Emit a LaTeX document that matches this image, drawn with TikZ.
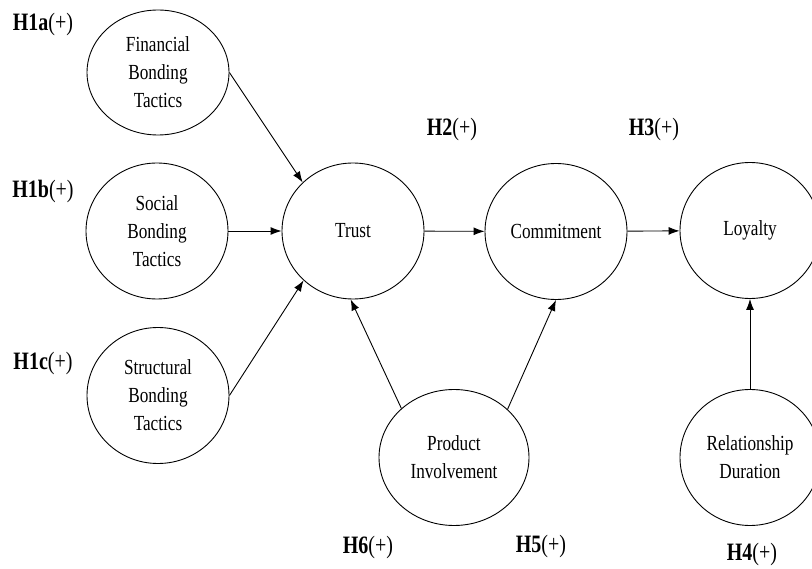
\documentclass[tikz,border=0pt]{standalone}
\usepackage{fontspec}
\setmainfont[FakeStretch=0.8]{Liberation Serif}
\usetikzlibrary{shapes.geometric}
\usetikzlibrary{arrows.meta}

\begin{document}
\begin{tikzpicture}[x=1pt, y=-1pt,
  construct/.style={ellipse, draw=black, minimum width=142pt, minimum height=136pt,
                    inner sep=0pt, align=center, font=\fontsize{21.5}{28}\selectfont},
  hyp/.style={font=\fontsize{25}{30}\selectfont},
  link/.style={-{Latex[length=11pt,width=8pt]}}]
\useasboundingbox (0,0) rectangle (812,569);
\begin{scope}[line width=0.9pt]

  % bonding tactics
  \node[construct, minimum height=125pt] (fin) at (158,72.5) {Financial\\Bonding\\Tactics};
  \node[construct] (soc) at (157,231) {Social\\Bonding\\Tactics};
  \node[construct] (struc) at (158,395.5) {Structural\\Bonding\\Tactics};

  % main chain
  \node[construct] (trust) at (353,231) {Trust};
  \node[construct] (commit) at (556,231.5) {Commitment};
  \node[construct, minimum width=140pt] (loyal) at (750,230.5) {Loyalty};

  % lower row
  \node[construct, minimum width=150pt] (prod) at (454,457.5) {Product\\Involvement};
  \node[construct, minimum width=140pt] (reldur) at (750,457.5) {Relationship\\Duration};

  % hypotheses
  \node[hyp] (h1a) at (43,24) {\textbf{H1a}(+)};
  \node[hyp] (h1b) at (43,191) {\textbf{H1b}(+)};
  \node[hyp] (h1c) at (43,363) {\textbf{H1c}(+)};
  \node[hyp] (h2) at (452,129) {\textbf{H2}(+)};
  \node[hyp] (h3) at (654,129) {\textbf{H3}(+)};
  \node[hyp] (h6) at (368,547) {\textbf{H6}(+)};
  \node[hyp] (h5) at (541,546) {\textbf{H5}(+)};
  \node[hyp] (h4) at (752,554) {\textbf{H4}(+)};

  % paths
  \draw[link] (fin.east) -- (trust.136);
  \draw[link] (soc) -- (trust);
  \draw[link] (struc.east) -- (trust.225);
  \draw[link] (trust) -- (commit);
  \draw[link] (commit) -- (loyal);
  \draw[link] (prod.137) -- (trust.268);
  \draw[link] (prod.42) -- (commit.south);
  \draw[link] (reldur) -- (loyal);
\end{scope}
\end{tikzpicture}
\end{document}
